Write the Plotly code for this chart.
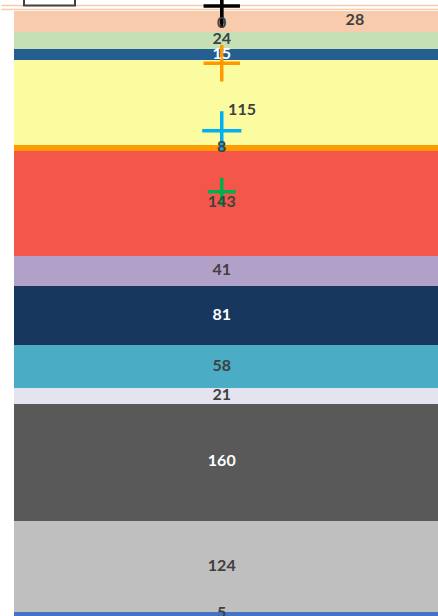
import numpy as np
import plotly.graph_objects as go

# Stacked segments, listed bottom to top
segment_names = ["S1", "S2", "S3", "S4", "S5", "S6", "S7", "S8", "S9", "S10", "S11", "S12", "S13", "S14"]
segment_values = [5, 124, 160, 21, 58, 81, 41, 143, 8, 115, 15, 24, 0, 28]

# Marker series drawn as crosses over the bar
marker_names = ["M1", "M2", "M3", "M4"]
marker_values = [830, 752, 660, 577]
marker_drop = [30, 0, 0, 0]

seg_colors = ["#4472C4", "#BFBFBF", "#595959", "#E4E4F1", "#4BACC6", "#17375E",
              "#B1A0C7", "#F4574A", "#FF9A00", "#FBFBA0", "#255E91", "#C5E0B4",
              "#FFFFFF", "#F8CBAD"]
label_colors = ["#404040", "#404040", "#FFFFFF", "#404040", "#404040", "#FFFFFF",
                "#404040", "#404040", "#404040", "#404040", "#FFFFFF", "#404040",
                "#404040", "#404040"]
marker_colors = ["#000000", "#FF9900", "#00B0F0", "#00B050"]
marker_sizes = [26, 26, 28, 20]

fig = go.Figure()

for name, val, col in zip(segment_names, segment_values, seg_colors):
    fig.add_trace(go.Bar(
        x=[0], y=[val], name=name, width=1.2,
        marker=dict(color=col, line=dict(width=0)),
        showlegend=False, hoverinfo="skip",
    ))

# value labels at segment midpoints
vals = np.array(segment_values, dtype=float)
tops = np.cumsum(vals)
mids = tops - vals / 2
label_x = [0.0] * len(vals)
label_pos = ["middle center"] * len(vals)
label_x[13] = 0.314          # "28" sits off to the right
label_pos[12] = "top center"  # zero-height segment
label_x[9] = 0.015
label_pos[9] = "bottom right"  # "115" next to its marker

for name, col, size, v, drop in zip(marker_names, marker_colors, marker_sizes,
                                    marker_values, marker_drop):
    fig.add_trace(go.Scatter(
        x=[0], y=[v], mode="markers", name=name, showlegend=False,
        marker=dict(symbol="cross-thin", size=size,
                    line=dict(color=col, width=3.5)),
        error_y=dict(type="data", symmetric=False, array=[12 if drop else 0],
                     arrayminus=[drop], color=col, thickness=3, width=0,
                     visible=bool(drop)),
        hoverinfo="skip",
    ))

fig.add_trace(go.Scatter(
    x=label_x, y=mids, mode="text",
    text=[str(v) for v in segment_values],
    textposition=label_pos,
    textfont=dict(family="Lato", size=16, color=label_colors, weight="bold"),
    showlegend=False, hoverinfo="skip",
))

fig.update_layout(
    width=438, height=616,
    margin=dict(l=14, r=0, t=0, b=0),
    barmode="stack", bargap=0,
    paper_bgcolor="#FFFFFF", plot_bgcolor="#FFFFFF",
    xaxis=dict(range=[-0.49, 0.51], visible=False, fixedrange=True),
    yaxis=dict(range=[0, 838], visible=False, fixedrange=True),
    shapes=[
        dict(type="line", xref="paper", yref="paper", x0=-0.03, x1=1.0,
             y0=1 - 5.5 / 616, y1=1 - 5.5 / 616,
             line=dict(color="#F8CBAD", width=1.5), layer="below"),
        dict(type="line", xref="paper", yref="paper", x0=-0.03, x1=1.0,
             y0=1 - 9.5 / 616, y1=1 - 9.5 / 616,
             line=dict(color="#F8CBAD", width=1.5), layer="below"),
        dict(type="rect", xref="paper", yref="paper", x0=10 / 424, x1=61 / 424,
             y0=1 - 5.5 / 616, y1=1.05,
             line=dict(color="#404040", width=2), fillcolor="#FFFFFF"),
    ],
)

fig.write_html("out.html")
